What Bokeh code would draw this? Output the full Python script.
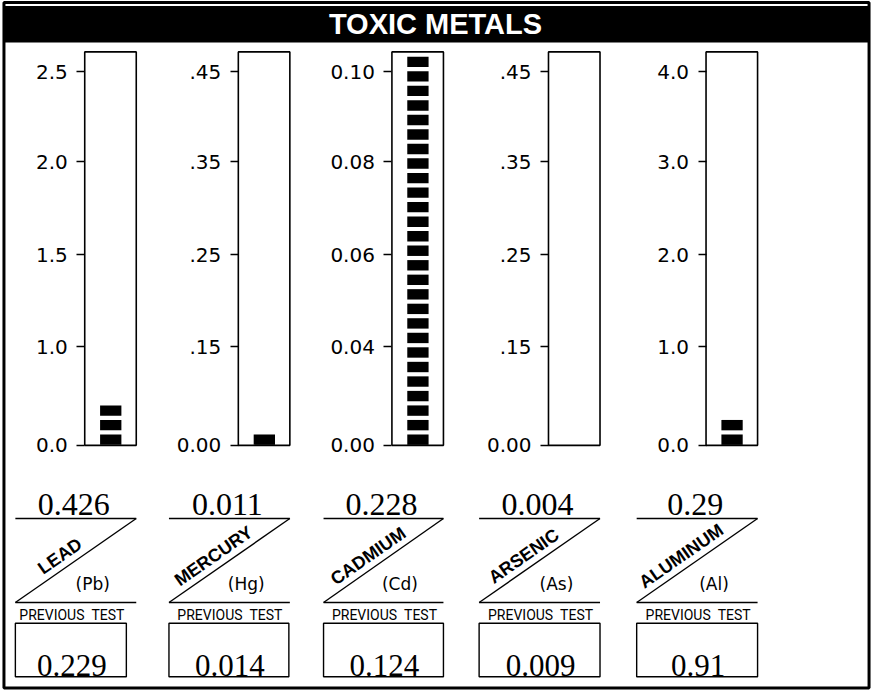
import numpy as np
from bokeh.plotting import figure
from bokeh.models import Range1d, LinearAxis, FixedTicker, ColumnDataSource
from bokeh.core.properties import value
from bokeh.embed import file_html
from bokeh.resources import INLINE

# ---------------- data ----------------
title = "TOXIC METALS"
elements = ["LEAD", "MERCURY", "CADMIUM", "ARSENIC", "ALUMINUM"]
symbols = ["(Pb)", "(Hg)", "(Cd)", "(As)", "(Al)"]
results = [0.426, 0.011, 0.228, 0.004, 0.29]
previous = [0.229, 0.014, 0.124, 0.009, 0.91]
prev_caption = "PREVIOUS\u00a0\u00a0TEST"

lead_ticks = [0.0, 1.0, 1.5, 2.0, 2.5]
mercury_ticks = [0.0, 0.15, 0.25, 0.35, 0.45]
cadmium_ticks = [0.0, 0.04, 0.06, 0.08, 0.10]
arsenic_ticks = [0.0, 0.15, 0.25, 0.35, 0.45]
aluminum_ticks = [0.0, 1.0, 2.0, 3.0, 4.0]

lead_labels = ["0.0", "1.0", "1.5", "2.0", "2.5"]
mercury_labels = ["0.00", ".15", ".25", ".35", ".45"]
cadmium_labels = ["0.00", "0.04", "0.06", "0.08", "0.10"]
arsenic_labels = ["0.00", ".15", ".25", ".35", ".45"]
aluminum_labels = ["0.0", "1.0", "2.0", "3.0", "4.0"]

tick_values = [lead_ticks, mercury_ticks, cadmium_ticks, arsenic_ticks, aluminum_ticks]
tick_labels = [lead_labels, mercury_labels, cadmium_labels, arsenic_labels, aluminum_labels]

# ---------------- layout (sheet pixels, y downwards) ----------------
tube_left = [85, 240, 395, 553, 712]
tube_w = 52
tube_top, tube_bottom = 52, 450
tick_pos = [450, 350, 257, 163, 72]      # gauge positions of the five ticks
seg_pitch, seg_h = 14.7, 10.5
panel_left = [15, 170, 326, 483, 642]
panel_right = [t + tube_w for t in tube_left]
box_right = [127, 291, 447, 605, 764]

W, H = 874, 692
p = figure(width=W, height=H, x_range=Range1d(0, 882), y_range=Range1d(700, 0),
           output_backend="svg", toolbar_location=None, min_border=0,
           x_axis_location=None, y_axis_location=None)
p.grid.visible = False
p.outline_line_color = None
p.background_fill_color = "white"
p.border_fill_color = "white"

# outer frame and title bar
p.quad(left=[3.5], right=[876.5], top=[2], bottom=[695.5], fill_color=None,
       line_color="black", line_width=3)
p.quad(left=[3.5], right=[876.5], top=[5.5], bottom=[42.5], fill_color="black", line_color=None)
p.text(x=[439], y=[24], text=[title], text_color="white", text_font=value("Liberation Sans"),
       text_font_style="bold", text_font_size="29px", text_align="center",
       text_baseline="middle")

# tubes
tl = np.array(tube_left, dtype=float)
p.quad(left=tl, right=tl + tube_w, top=tube_top, bottom=tube_bottom,
       fill_color="white", line_color="black", line_width=1.6)

# segmented bars
n_max = int((tube_bottom - tube_top - 5) // seg_pitch) + 1
seg_l, seg_r, seg_t, seg_b = [], [], [], []
for i, v in enumerate(results):
    vals = tick_values[i]
    if v > vals[-1]:
        n = n_max
    else:
        ypix = np.interp(v, vals, tick_pos)
        n = int(np.floor((tube_bottom - ypix) / seg_pitch + 0.6))
    for k in range(n):
        b = tube_bottom - 0.5 - k * seg_pitch
        seg_l.append(tube_left[i] + 15.5)
        seg_r.append(tube_left[i] + 37)
        seg_b.append(b)
        seg_t.append(b - seg_h)
p.quad(left=seg_l, right=seg_r, top=seg_t, bottom=seg_b, fill_color="black", line_color=None)

# axes
for i in range(5):
    ax = LinearAxis(fixed_location=tube_left[i],
                    ticker=FixedTicker(ticks=[float(t) for t in tick_pos]),
                    major_label_overrides={float(t): lab for t, lab in zip(tick_pos, tick_labels[i])},
                    major_tick_out=8, major_tick_in=0, minor_tick_out=0, minor_tick_in=0,
                    major_tick_line_width=1.5, axis_line_color=None,
                    major_label_standoff=9,
                    major_label_text_font="DejaVu Sans",
                    major_label_text_font_size="20px",
                    major_label_text_color="black")
    p.add_layout(ax, "left")

# lower panels
pl = np.array(panel_left, dtype=float)
pr = np.array(panel_right, dtype=float)
br = np.array(box_right, dtype=float)
p.segment(x0=pl, y0=524, x1=pr, y1=524, line_color="black", line_width=1.4)
p.segment(x0=pl, y0=609, x1=pr, y1=524, line_color="black", line_width=1.4)
p.segment(x0=pl, y0=609, x1=pr, y1=609, line_color="black", line_width=1.4)
p.quad(left=pl, right=br, top=630, bottom=684, fill_color=None, line_color="black",
       line_width=1.4)

src = ColumnDataSource(dict(
    cx=(pl + pr) / 2 - 2,
    bx=(pl + br) / 2 + 1,
    nx=pl + 45,
    sx=pr - 44,
    res=[str(v) for v in results],
    prev=[str(v) for v in previous],
    name=elements,
    sym=symbols,
    cap=[prev_caption] * len(elements),
))
angle = float(np.arctan2(85, 122))
p.text(x="cx", y=510, text="res", source=src, text_font=value("Liberation Serif"),
       text_font_size="32px", text_align="center", text_baseline="alphabetic",
       text_color="black")
p.text(x="bx", y=673, text="prev", source=src, text_font=value("Liberation Serif"),
       text_font_size="31px", text_align="center", text_baseline="alphabetic",
       text_color="black")
p.text(x="nx", y=562, text="name", source=src, angle=angle, text_font=value("Liberation Sans"),
       text_font_style="bold", text_font_size="18px", text_align="center",
       text_baseline="middle", text_color="black")
p.text(x="sx", y=590, text="sym", source=src, text_font=value("DejaVu Sans"),
       text_font_size="17px", text_align="center", text_baseline="middle",
       text_color="black")
p.text(x="bx", y=622, text="cap", source=src, text_font=value("Roboto"),
       text_font_size="14px", text_align="center", text_baseline="middle",
       text_color="black")

open("out.html", "w").write(file_html(p, INLINE))
